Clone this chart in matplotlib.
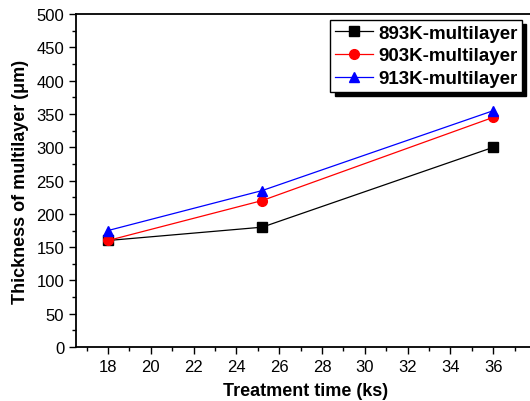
#!/usr/bin/env python3
"""Multilayer thickness vs treatment time."""

import matplotlib

matplotlib.use("Agg")
import matplotlib.pyplot as plt
from matplotlib.ticker import MultipleLocator

plt.rcParams["font.family"] = ["Liberation Sans", "DejaVu Sans"]

TIME_KS = [18, 25.2, 36]
THICK_893 = [160, 180, 300]
THICK_903 = [160, 220, 345]
THICK_913 = [175, 235, 355]
X_TICKS = [18, 20, 22, 24, 26, 28, 30, 32, 34, 36]
SERIES = [
    ("893K-multilayer", THICK_893, "black", "s"),
    ("903K-multilayer", THICK_903, "red", "o"),
    ("913K-multilayer", THICK_913, "blue", "^"),
]


def main() -> None:
    fig = plt.figure(figsize=(5.3, 4.02), dpi=100)
    ax = fig.add_axes([0.1434, 0.1343, 0.868, 0.828])

    for label, values, color, marker in SERIES:
        ax.plot(TIME_KS, values, color=color, marker=marker, markersize=7,
                linewidth=0.9, label=label)

    ax.set_xlim(16.5, 38)
    ax.set_ylim(0, 500)
    ax.set_xticks(X_TICKS)
    ax.xaxis.set_minor_locator(MultipleLocator(1))
    ax.yaxis.set_major_locator(MultipleLocator(50))
    ax.yaxis.set_minor_locator(MultipleLocator(25))
    ax.tick_params(which="both", direction="out", width=1.0, labelsize=12)
    ax.tick_params(which="major", length=5)
    ax.tick_params(which="minor", length=3)
    for spine in ax.spines.values():
        spine.set_linewidth(1.3)
    ax.spines["right"].set_visible(False)

    ax.set_xlabel("Treatment time (ks)", fontsize=13, fontweight="bold", labelpad=6)
    ax.set_ylabel("Thickness of multilayer (\u03bcm)", fontsize=13, fontweight="bold", labelpad=5)

    leg = ax.legend(loc="upper left", bbox_to_anchor=(0.553, 0.983),
                    prop={"weight": "bold", "size": 13.5},
                    fancybox=False, edgecolor="black", framealpha=1,
                    shadow={"ox": 3, "oy": -3, "color": "black", "alpha": 1},
                    handlelength=2.0, handletextpad=0.3, labelspacing=0.3,
                    borderpad=0.25, borderaxespad=0)
    leg.get_frame().set_linewidth(1.0)

    fig.savefig("out.png", dpi=100)
    plt.close(fig)


if __name__ == "__main__":
    main()
